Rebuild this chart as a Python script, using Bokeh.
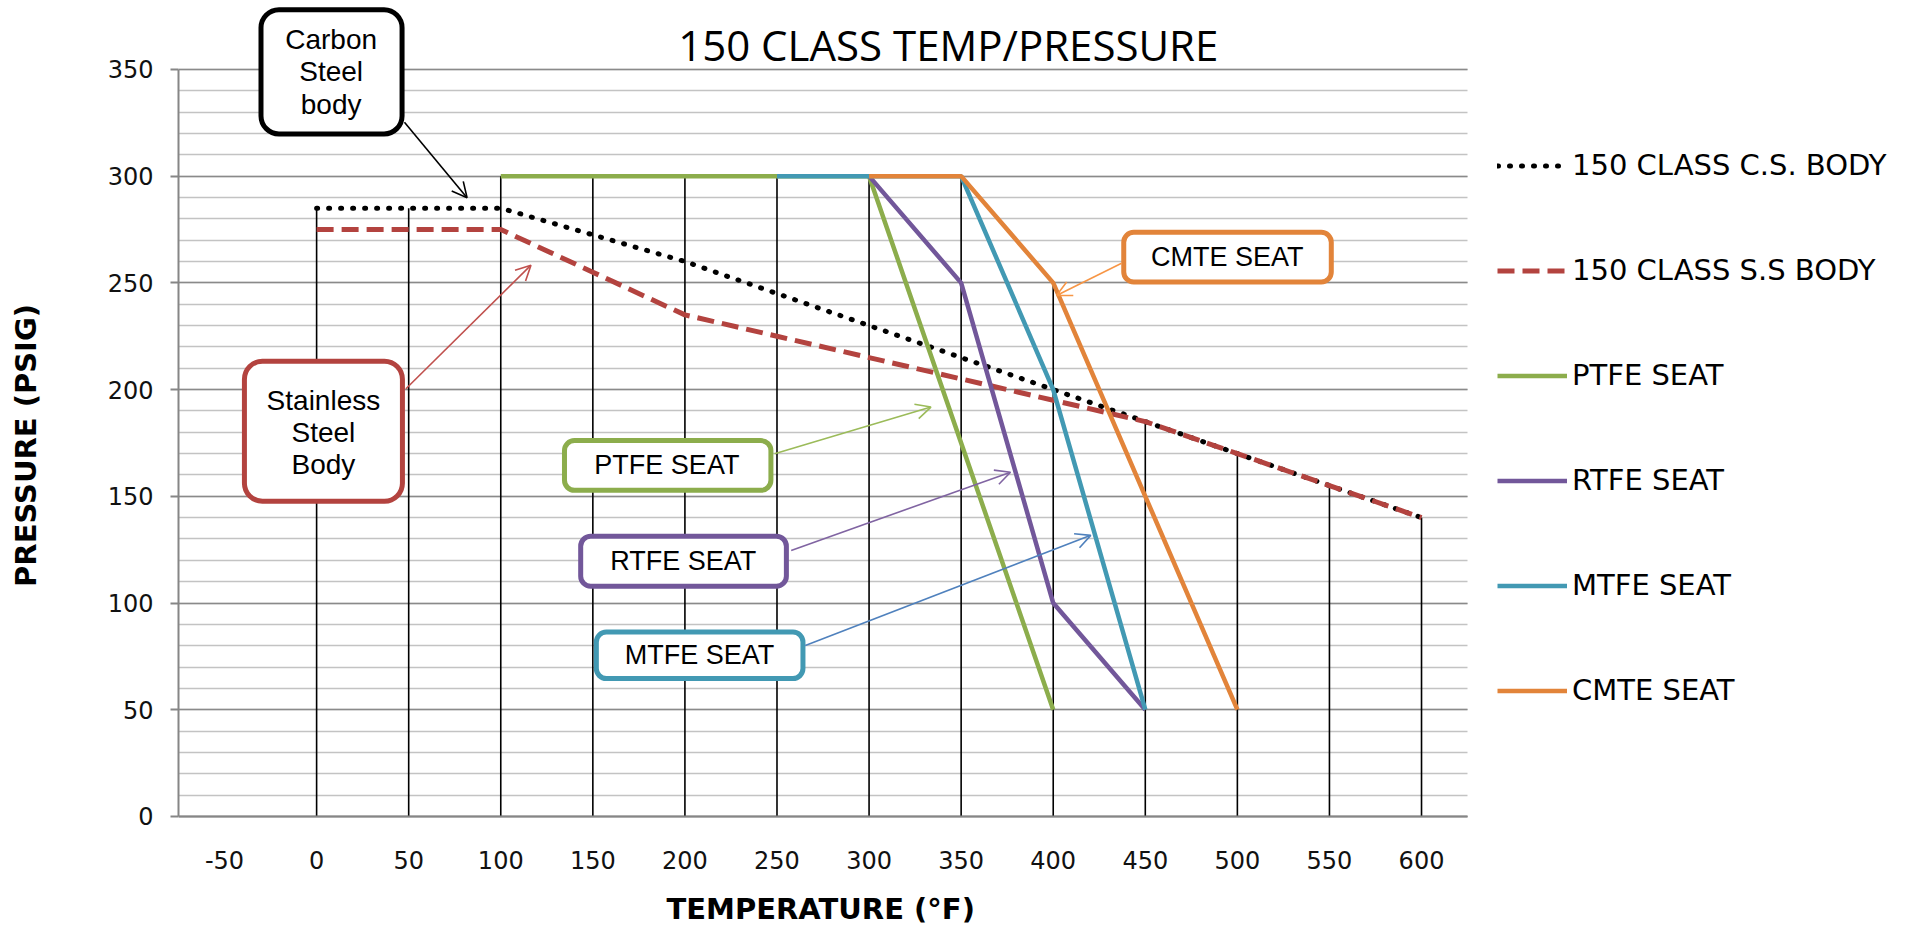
import numpy as np
from bokeh.plotting import figure
from bokeh.models import (Range1d, FixedTicker, SingleIntervalTicker, Legend, LegendItem,
                          BoxAnnotation, Label, Arrow, OpenHead, Title)
from bokeh.embed import file_html
from bokeh.resources import INLINE

# ---------------- data ----------------
temps = [-50, 0, 50, 100, 150, 200, 250, 300, 350, 400, 450, 500, 550, 600]
temp_labels = ["-50", "0", "50", "100", "150", "200", "250", "300", "350", "400",
               "450", "500", "550", "600"]
cs_body = [None, 285, 285, 285, 272.5, 260, 245, 230, 215, 200, 185, 170, 155, 140]
ss_body = [None, 275, 275, 275, 255, 235, 225, 215, 205, 195, 185, 170, 155, 140]
ptfe_seat = [None, None, None, 300, 300, 300, 300, 300, 175, 50, None, None, None, None]
rtfe_seat = [None, None, None, None, None, None, None, 300, 250, 100, 50, None, None, None]
mtfe_seat = [None, None, None, None, None, None, 300, 300, 300, 200, 50, None, None, None]
cmte_seat = [None, None, None, None, None, None, None, 300, 300, 250, 150, 50, None, None]
series_names = ["150 CLASS C.S. BODY", "150 CLASS S.S BODY", "PTFE SEAT",
                "RTFE SEAT", "MTFE SEAT", "CMTE SEAT"]
title_text = "150 CLASS TEMP/PRESSURE"
x_title = "TEMPERATURE (°F)"
y_title = "PRESSURE (PSIG)"
x_bounds = (-75, 625)
y_bounds = (0, 350)


def arr(v):
    return np.array([np.nan if a is None else a for a in v], dtype=float)


X = np.array(temps, dtype=float)
S = [arr(cs_body), arr(ss_body), arr(ptfe_seat), arr(rtfe_seat), arr(mtfe_seat), arr(cmte_seat)]

# ---------------- figure ----------------
# the frame fills most of the canvas; axes and grid are bounded to the chart area
p = figure(width=1900, height=926, output_backend="svg", toolbar_location=None,
           x_range=Range1d(-75, 860.1), y_range=Range1d(-34.7, 382.3),
           min_border_left=178, min_border_right=0, min_border_top=0, min_border_bottom=36)
p.outline_line_color = None
p.background_fill_color = "white"
p.border_fill_color = "white"

yt = SingleIntervalTicker(interval=50, num_minor_ticks=5)
p.yaxis.ticker = yt
p.ygrid.ticker = yt
p.yaxis.bounds = y_bounds
p.xaxis.bounds = x_bounds
p.xaxis.fixed_location = 0
p.ygrid.bounds = y_bounds
p.ygrid.cross_bounds = x_bounds
p.xgrid.grid_line_color = None
p.ygrid.grid_line_color = "#8a8a8a"
p.ygrid.grid_line_width = 1.6
p.ygrid.minor_grid_line_color = "#c3c3c3"
p.ygrid.minor_grid_line_width = 1.6

p.xaxis.ticker = FixedTicker(ticks=temps)
p.xaxis.major_label_overrides = {t: s for t, s in zip(temps, temp_labels)}
for ax in (p.xaxis[0], p.yaxis[0]):
    ax.axis_line_color = "#868686"
    ax.axis_line_width = 2
    ax.minor_tick_line_color = None
    ax.major_label_text_font = "DejaVu Sans"
    ax.major_label_text_font_size = "24px"
    ax.major_label_text_color = "#111111"
    ax.axis_label_text_font = "DejaVu Sans"
    ax.axis_label_text_font_size = "29px"
    ax.axis_label_text_font_style = "bold"
    ax.axis_label_text_color = "#000000"

p.xaxis.major_tick_line_color = None
p.xaxis.major_tick_out = 0
p.xaxis.major_tick_in = 0
p.xaxis.major_label_standoff = 35

p.yaxis.major_tick_line_color = "#868686"
p.yaxis.major_tick_line_width = 2
p.yaxis.major_tick_out = 8
p.yaxis.major_tick_in = 0
p.yaxis.major_label_standoff = 17
p.yaxis.axis_label = y_title
p.yaxis.axis_label_standoff = 62

# x axis title, placed under the bounded axis
p.add_layout(Title(text=x_title, align="left", offset=488, standoff=0,
                   vertical_align="middle", text_font="DejaVu Sans",
                   text_font_size="29px", text_font_style="bold", text_color="#000000"),
             "below")

# drop lines (from highest value of any series down to the axis)
stack = np.vstack(S)
has = ~np.all(np.isnan(stack), axis=0)
tops = np.nanmax(np.where(np.isnan(stack), -np.inf, stack), axis=0)
p.segment(x0=X[has], y0=np.zeros(has.sum()), x1=X[has], y1=tops[has],
          line_color="black", line_width=1.6)

# series
styles = [
    dict(line_color="black", line_width=5, line_dash="1 11", line_cap="round"),
    dict(line_color="#b3433f", line_width=5, line_dash="17 8"),
    dict(line_color="#8cad4c", line_width=4.5),
    dict(line_color="#72579a", line_width=4.5),
    dict(line_color="#4299b3", line_width=4.5),
    dict(line_color="#e2843a", line_width=4.5),
]
rends = []
for ys, st in zip(S, styles):
    rends.append(p.line(X, ys, **st))

legend = Legend(items=[LegendItem(label=n, renderers=[r]) for n, r in zip(series_names, rends)],
                location=(1319, 183), orientation="vertical",
                label_text_font="DejaVu Sans", label_text_font_size="29px",
                label_text_color="#000000",
                glyph_width=70, glyph_height=33, label_height=33, spacing=71,
                padding=0, margin=0, label_standoff=5,
                border_line_color=None, background_fill_alpha=0)
p.add_layout(legend, "center")

# title
p.add_layout(Label(x=343, y=361.7, text=title_text, text_font="Open Sans",
                   text_font_size="42px", text_align="center", text_baseline="alphabetic",
                   text_color="#000000"))


# callouts
def callout(left, right, top, bottom, color, radius, text, tx, ty, fsize,
            a0, a1, acolor):
    p.add_layout(BoxAnnotation(left=left, right=right, top=top, bottom=bottom,
                               fill_color="white", fill_alpha=1.0,
                               line_color=color, line_width=5, line_alpha=1.0,
                               border_radius=radius))
    p.add_layout(Label(x=tx, y=ty, text=text, text_font="Liberation Sans",
                       text_font_size=fsize, text_align="center", text_baseline="middle",
                       text_line_height=1.04, text_color="#000000"))
    p.add_layout(Arrow(x_start=a0[0], y_start=a0[1], x_end=a1[0], y_end=a1[1],
                       line_color=acolor, line_width=1.6,
                       end=OpenHead(size=15, line_color=acolor, line_width=1.6)))


callout(-30.2, 46.4, 378.0, 319.8, "#000000", 18, "Carbon\nSteel\nbody", 7.9, 348.8, "28px",
        (47.7, 325.3), (81.7, 289.9), "#000000")
callout(-39.2, 46.6, 213.3, 147.7, "#b3433f", 18, "Stainless\nSteel\nBody", 3.7, 179.8, "28px",
        (48.5, 200.4), (116.4, 258.3), "#c0504d")
callout(438.3, 551.0, 273.7, 250.4, "#e2843a", 10, "CMTE SEAT", 494.5, 262.2, "27px",
        (437.1, 259.2), (401.8, 244.1), "#f79646")
callout(134.6, 246.7, 176.1, 152.8, "#8cad4c", 10, "PTFE SEAT", 190.2, 164.6, "27px",
        (248.7, 169.9), (333.6, 191.8), "#9bbb59")
callout(143.4, 255.1, 131.3, 107.9, "#72579a", 10, "RTFE SEAT", 199.1, 119.8, "27px",
        (257.7, 124.6), (376.8, 161.3), "#8064a2")
callout(151.9, 264.1, 86.4, 64.6, "#4299b3", 10, "MTFE SEAT", 207.9, 75.6, "27px",
        (265.4, 80.1), (420.4, 131.7), "#4f81bd")

open("out.html", "w").write(file_html(p, INLINE))
